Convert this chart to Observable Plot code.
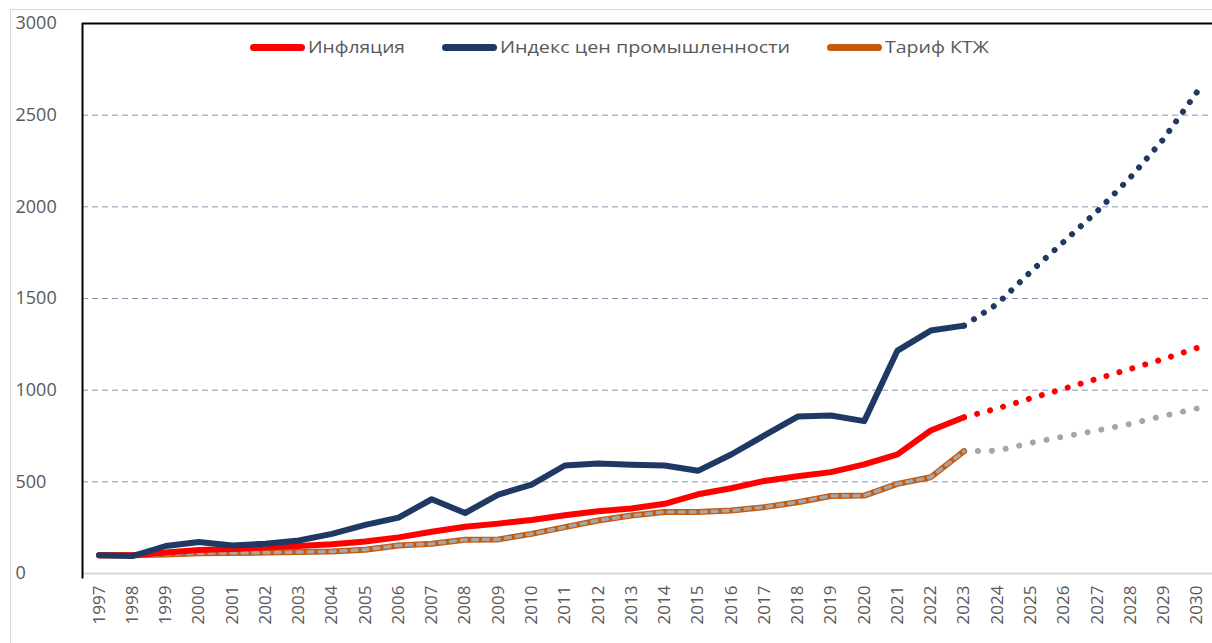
<!DOCTYPE html>
<html>
<head>
<meta charset="utf-8">
<script src="https://cdn.jsdelivr.net/npm/d3@7"></script>
<script src="https://cdn.jsdelivr.net/npm/@observablehq/plot@0.6"></script>
<style>
  html, body { margin: 0; padding: 0; background: #fff; overflow: hidden; }
  #wrap { position: relative; width: 1212px; height: 643px; }
  #border { position: absolute; left: 10px; top: 9px; width: 1300px; height: 700px; border: 1px solid #d9d9d9; pointer-events: none; }
  #legend { position: absolute; top: 36px; left: 0; font-family: "Open Sans", sans-serif; font-size: 16px; color: #595959; }
  .item { position: absolute; white-space: nowrap; display: flex; align-items: center; height: 22px; }
  .sw { display: inline-block; width: 55px; height: 7px; border-radius: 4px; margin-right: 3px; }
  .lbl { display: inline-block; transform-origin: left center; }
</style>
</head>
<body>
<div id="wrap">
  <div id="chart"></div>
  <div id="border"></div>
  <div id="legend"></div>
</div>
<script>
// ---- data ----
const years = [1997,1998,1999,2000,2001,2002,2003,2004,2005,2006,2007,2008,2009,2010,2011,2012,2013,2014,2015,2016,2017,2018,2019,2020,2021,2022,2023];
const inflation = [100,100,114,128,133,142,150,160,175,197,228,255,272,292,318,340,355,380,432,465,505,530,553,595,650,780,852];
const industry  = [100,95,150,172,153,162,180,216,265,305,405,330,430,485,589,600,593,589,560,649,753,856,862,831,1216,1325,1352];
const tariff    = [100,100,104,111,112,114,117,120,130,153,162,184,186,216,253,289,316,335,335,344,362,389,423,425,489,525,667];
const fcYears = [2023,2024,2025,2026,2027,2028,2029,2030];
const inflationFc = [852,900,955,1008,1062,1116,1170,1230];
const industryFc  = [1352,1470,1645,1810,1975,2160,2370,2625];
const tariffFc    = [667,670,712,747,780,816,860,900];
const yTicks = [0,500,1000,1500,2000,2500,3000];
const xTicks = d3.range(1997, 2031);
const seriesNames = ["Инфляция","Индекс цен промышленности","Тариф КТЖ"];
const colors = {inf:"#ff0000", ind:"#1f3864", tar:"#c55a11", fc:"#a6a6a6"};

const hist = (vals) => years.map((y,i) => ({year:y, v:vals[i]}));
const fc = (vals) => fcYears.map((y,i) => ({year:y, v:vals[i]}));

const plot = Plot.plot({
  width: 1212,
  height: 643,
  marginLeft: 82,
  marginRight: 0,
  marginTop: 23,
  marginBottom: 70,
  style: {background: "transparent", fontFamily: "Open Sans, sans-serif"},
  x: {domain: [1996.5, 2030.47], axis: null},
  y: {domain: [0, 3000], axis: null},
  marks: [
    Plot.gridY(yTicks.filter(t => t > 0 && t < 3000), {stroke: "#8497b0", strokeOpacity: 1, strokeWidth: 1, strokeDasharray: "6,4"}),
    Plot.ruleY([0], {stroke: "#d9d9d9", strokeWidth: 2}),
    Plot.ruleY([3000], {stroke: "#000", strokeWidth: 2}),
    Plot.ruleX([1996.5], {stroke: "#000", strokeWidth: 2, y1: -30, y2: 3000}),
    Plot.axisY({ticks: yTicks, tickFormat: d => String(d), label: null, tickSize: 0, tickPadding: 0, textAnchor: "start", dx: -67, fontSize: 18, fill: "#595959"}),
    Plot.axisX({ticks: xTicks, tickFormat: d => String(d), label: null, tickRotate: -90, tickSize: 0, tickPadding: 12, fontSize: 17, fill: "#595959"}),
    // forecasts (dotted)
    Plot.line(fc(industryFc), {x: "year", y: "v", stroke: colors.ind, strokeWidth: 6, strokeLinecap: "round", strokeDasharray: "0.1 12"}),
    Plot.line(fc(inflationFc), {x: "year", y: "v", stroke: colors.inf, strokeWidth: 6, strokeLinecap: "round", strokeDasharray: "0.1 13.7"}),
    Plot.line(fc(tariffFc), {x: "year", y: "v", stroke: colors.fc, strokeWidth: 6, strokeLinecap: "round", strokeDasharray: "0.1 14.2"}),
    // history
    Plot.line(hist(tariff), {x: "year", y: "v", stroke: colors.tar, strokeWidth: 6, strokeLinejoin: "round"}),
    Plot.line(hist(tariff), {x: "year", y: "v", stroke: colors.fc, strokeWidth: 3.5, strokeDasharray: "5,6"}),
    Plot.line(hist(inflation), {x: "year", y: "v", stroke: colors.inf, strokeWidth: 6, strokeLinejoin: "round"}),
    Plot.line(hist(industry), {x: "year", y: "v", stroke: colors.ind, strokeWidth: 6, strokeLinejoin: "round"})
  ]
});
document.getElementById("chart").appendChild(plot);

// make dotted forecast lines land a dot exactly at both ends
plot.querySelectorAll("path").forEach(p => {
  const da = p.getAttribute("stroke-dasharray") || (p.parentNode && p.parentNode.getAttribute && p.parentNode.getAttribute("stroke-dasharray"));
  if (!da || !/^0\.1[ ,]/.test(da)) return;
  const want = parseFloat(da.split(/[ ,]+/)[1]);
  const L = p.getTotalLength();
  const n = Math.max(1, Math.round(L / want));
  const per = (L - 0.3) / n;
  p.setAttribute("stroke-dasharray", `0.01 ${(per - 0.01).toFixed(3)}`);
});

// legend
const legend = document.getElementById("legend");
const legendItems = [
  {name: seriesNames[0], color: colors.inf, left: 250, w: 97},
  {name: seriesNames[1], color: colors.ind, left: 442, w: 290},
  {name: seriesNames[2], color: colors.tar, left: 827, w: 104}
];
legendItems.forEach(it => {
  const d = document.createElement("div");
  d.className = "item";
  d.style.left = it.left + "px";
  const s = document.createElement("span");
  s.className = "sw";
  s.style.background = it.color;
  d.appendChild(s);
  const t = document.createElement("span");
  t.className = "lbl";
  t.textContent = it.name;
  d.appendChild(t);
  legend.appendChild(d);
  const tw = t.getBoundingClientRect().width;
  t.style.transform = `scaleX(${it.w / tw})`;
});
</script>
</body>
</html>
